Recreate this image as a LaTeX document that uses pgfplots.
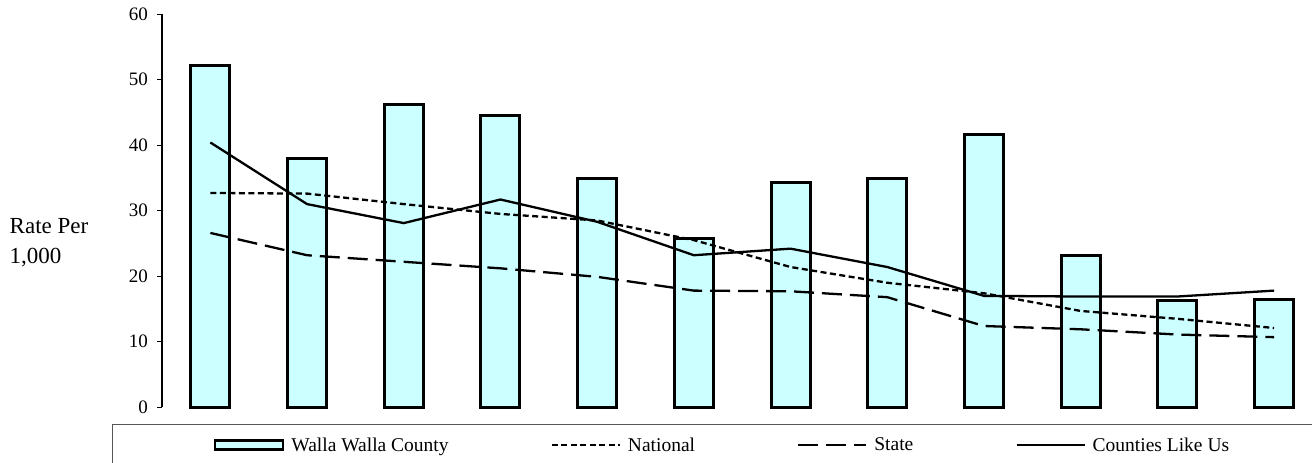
\documentclass[border=0pt]{standalone}
\usepackage{fontspec}
\setmainfont{Liberation Serif}
\usepackage{pgfplots}
\pgfplotsset{compat=1.18}
\definecolor{barfill}{HTML}{CCFFFF}
\definecolor{boxgray}{HTML}{555555}
\begin{document}
\begin{tikzpicture}
\useasboundingbox (0,0) rectangle (1312pt,463pt);
\begin{axis}[
  at={(162pt,55.7pt)}, anchor=south west,
  scale only axis, width=1160.4pt, height=393.3pt,
  xmin=-0.5, xmax=11.5, ymin=0, ymax=60,
  axis x line=none, axis y line*=left,
  y axis line style={-, line width=1.2pt},
  ytick={0,10,...,60},
  tick align=outside, major tick length=5pt,
  tick style={line width=0.8pt, black},
  /pgf/number format/assume math mode=true,
  yticklabel style={font=\fontsize{19}{22}\selectfont, inner sep=0pt, xshift=-9pt},
  clip=false,
  legend columns=4,
  legend style={draw=none, fill=none, inner sep=0pt, outer sep=0pt,
    at={(axis description cs:0.0448,-0.0959)}, anchor=west,
    font=\fontsize{19.5}{23}\selectfont,
    nodes={inner sep=0pt},
    /tikz/every odd column/.append style={column sep=7pt},
    /tikz/every even column/.append style={column sep=102pt}},
]
\addplot[ybar, bar width=39pt, bar shift=0pt, fill=barfill, draw=black, line width=3pt,
  legend image code/.code={\draw[fill=barfill, draw=black, line width=2.5pt] (0pt,-4.5pt) rectangle (68pt,4.5pt);}]
  coordinates {(0,52.1) (1,38.0) (2,46.2) (3,44.5) (4,34.9) (5,25.8) (6,34.3) (7,34.9) (8,41.6) (9,23.1) (10,16.3) (11,16.5)};
\addlegendentry{Walla Walla County}
\addplot[black, line width=2.3pt, dash pattern=on 6pt off 3.5pt,
  legend image code/.code={\draw[black, line width=2.3pt, dash pattern=on 6pt off 3.5pt] (0pt,0pt) -- (68pt,0pt);}]
  coordinates {(0,32.7) (1,32.6) (2,31.0) (3,29.5) (4,28.5) (5,25.5) (6,21.4) (7,19.0) (8,17.4) (9,14.7) (10,13.5) (11,12.1)};
\addlegendentry{National}
\addplot[black, line width=2.3pt, dash pattern=on 20pt off 8pt,
  legend image code/.code={\draw[black, line width=2.3pt, dash pattern=on 20pt off 8pt] (0pt,0pt) -- (68pt,0pt);}]
  coordinates {(0,26.6) (1,23.2) (2,22.2) (3,21.2) (4,19.9) (5,17.8) (6,17.7) (7,16.8) (8,12.4) (9,11.9) (10,11.1) (11,10.7)};
\addlegendentry{State}
\addplot[black, line width=2.3pt,
  legend image code/.code={\draw[black, line width=2.3pt] (0pt,0pt) -- (68pt,0pt);}]
  coordinates {(0,40.4) (1,31.0) (2,28.1) (3,31.7) (4,28.3) (5,23.2) (6,24.2) (7,21.4) (8,17.0) (9,16.9) (10,16.9) (11,17.8)};
\addlegendentry{Counties Like Us}
\end{axis}
\draw[boxgray, line width=1pt] (112.7pt,-20pt) |- (1400pt,38.7pt);
\node[anchor=base west, inner sep=0pt, font=\fontsize{23}{30}\selectfont] at (9.5pt,229.7pt) {Rate Per};
\node[anchor=base west, inner sep=0pt, font=\fontsize{23}{30}\selectfont] at (9.5pt,199.7pt) {1,000};
\end{tikzpicture}
\end{document}
